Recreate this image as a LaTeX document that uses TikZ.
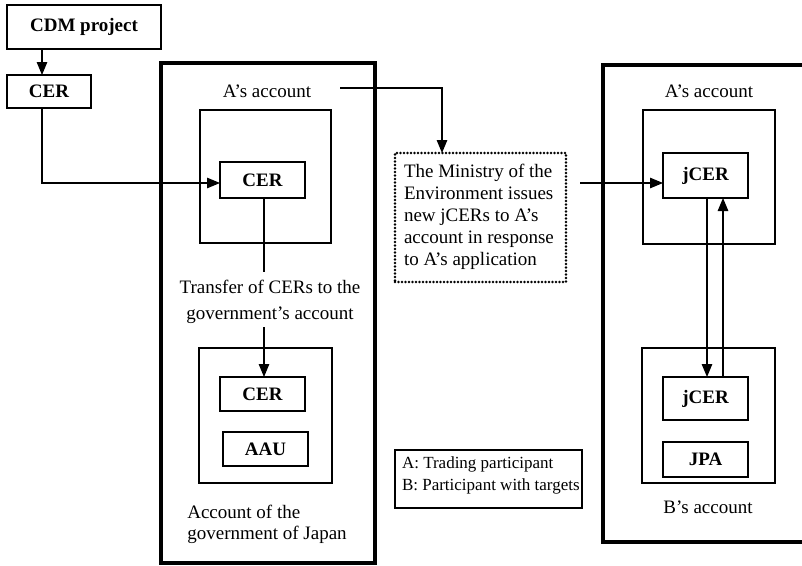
\documentclass[tikz,border=0pt]{standalone}
\usepackage{fontspec}
\setmainfont{Liberation Serif}
\usetikzlibrary{arrows.meta}
\begin{document}
\begin{tikzpicture}[x=1pt,y=-1pt,
  every node/.style={inner sep=0pt,outer sep=0pt},
  thin box/.style={draw,line width=1.2pt,rectangle},
  heavy box/.style={draw,line width=3.8pt,rectangle},
  item/.style={thin box,font=\fontsize{19}{22}\selectfont\bfseries},
  lbl/.style={font=\fontsize{19}{22}\selectfont},
  link/.style={line width=1.2pt},
  flow/.style={line width=1.2pt,-{Triangle[length=13pt,width=10.5pt]}},
  dotbox/.style={draw,line width=2.8pt,dash pattern=on 0pt off 3.5pt,line cap=round}]
\useasboundingbox (0,0) rectangle (802,565);
\clip (0,0) rectangle (802,565);

% source of credits
\node[item,minimum width=154pt,minimum height=44pt] (cdm) at (84,27) {CDM project};
\node[item,minimum width=84pt,minimum height=33pt] (cer0) at (49,91.5) {CER};

% left holder: A's account and the government account
\node[heavy box,minimum width=214pt,minimum height=500pt] (left) at (268,313) {};
\node[lbl] (aL) at (267,91) {A’s account};
\node[thin box,minimum width=131pt,minimum height=133pt] (accA) at (265.5,176.5) {};
\node[item,minimum width=85pt,minimum height=36pt] (cerA) at (262.5,180) {CER};
\node[lbl,align=center,font=\fontsize{19}{26}\selectfont] (xfer) at (270,302)
  {Transfer of CERs to the\\government’s account};
\node[thin box,minimum width=133pt,minimum height=135pt] (accG) at (265.5,415.5) {};
\node[item,minimum width=85pt,minimum height=34pt] (cerG) at (262.5,394) {CER};
\node[item,minimum width=85pt,minimum height=34pt] (aau) at (265.5,449) {AAU};
\node[lbl,align=left,font=\fontsize{19}{21}\selectfont] (gov) at (267,524)
  {Account of the\\government of Japan};

% issuing step
\node[dotbox,minimum width=171pt,minimum height=129pt] (moe) at (480.5,217.5) {};
\node[lbl,align=left,font=\fontsize{19}{22}\selectfont,anchor=west] (moetxt) at (404,217)
  {The Ministry of the\\Environment issues\\new jCERs to A’s\\account in response\\to A’s application};

% legend
\node[thin box,minimum width=187pt,minimum height=58pt] (legend) at (488.5,479) {};
\node[lbl,align=left,font=\fontsize{17}{22}\selectfont,anchor=west] (legtxt) at (402,475)
  {A: Trading participant\\B: Participant with targets};

% right holder: A's and B's accounts
\node[heavy box,minimum width=227pt,minimum height=477pt] (right) at (716.5,303.5) {};
\node[lbl] (aR) at (709,91) {A’s account};
\node[thin box,minimum width=132pt,minimum height=134pt] (accRA) at (709,177) {};
\node[item,minimum width=85pt,minimum height=45pt] (jA) at (705.5,175.5) {jCER};
\node[thin box,minimum width=133pt,minimum height=135pt] (accRB) at (708.5,415.5) {};
\node[item,minimum width=85pt,minimum height=43pt] (jB) at (705.5,398.5) {jCER};
\node[item,minimum width=85pt,minimum height=35pt] (jpa) at (705.5,459.5) {JPA};
\node[lbl] (bR) at (708,507) {B’s account};

% connector end points
\coordinate (c0) at (42,0);
\coordinate (inA) at (0,183);
\coordinate (aOut) at (340,88);
\coordinate (aTurn) at (442,88);
\coordinate (xTop) at (264,272);
\coordinate (xBot) at (264,327);
\coordinate (mOut) at (580,183);
\coordinate (dn) at (707,0);
\coordinate (up) at (723,0);

% connectors
\draw[flow] (cdm.south -| c0) -- (cer0.north -| c0);
\draw[flow] (cer0.south -| c0) |- (cerA.west |- inA);
\draw[link] (cerA.south -| xTop) -- (xTop);
\draw[flow] (xBot) -- (cerG.north -| xBot);
\draw[flow] (aOut) -- (aTurn) -- (aTurn |- moe.north);
\draw[flow] (mOut) -- (mOut -| jA.west);
\draw[flow] (jA.south -| dn) -- (jB.north -| dn);
\draw[flow] (jB.north -| up) -- (jA.south -| up);
\end{tikzpicture}
\end{document}
